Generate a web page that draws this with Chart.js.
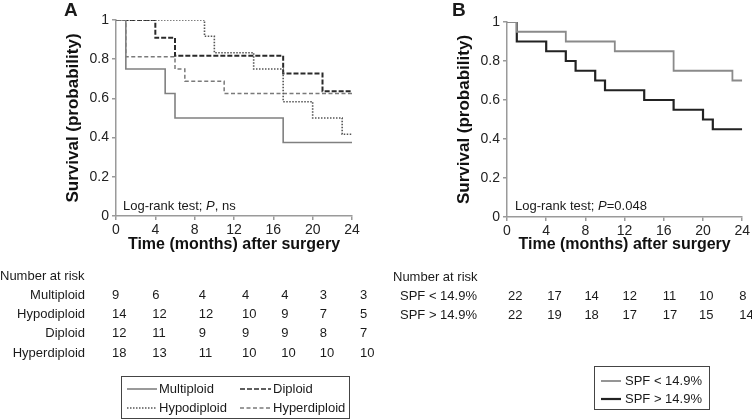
<!DOCTYPE html>
<html><head><meta charset="utf-8">
<script src="https://cdn.jsdelivr.net/npm/chart.js@4"></script>
<style>
html,body{margin:0;padding:0;background:#fff;}
body{width:752px;height:420px;position:relative;overflow:hidden;font-family:"Liberation Sans",Arial,sans-serif;color:#1a1a1a;}
canvas{position:absolute;top:0;}
.t{position:absolute;white-space:nowrap;font-size:13px;line-height:16px;}
svg{position:absolute;left:0;top:0;}
</style></head><body>
<canvas id="ca" width="380" height="258" style="left:0px"></canvas>
<canvas id="cb" width="362" height="258" style="left:390px"></canvas>
<svg id="sv" width="752" height="420"></svg>
<script>
// ---------- data ----------
const tickMonths = [0, 4, 8, 12, 16, 20, 24];
const yTickVals = [0, 0.2, 0.4, 0.6, 0.8, 1];
const yTickLabels = ['0', '0.2', '0.4', '0.6', '0.8', '1'];

const groupsA = ['Multiploid', 'Hypodiploid', 'Diploid', 'Hyperdiploid'];
const multiT = [0, 1, 5, 6, 17, 24];
const multiS = [1, 0.75, 0.625, 0.5, 0.375, 0.375];
const hypoT = [0, 9, 10, 14, 17, 20, 23, 24];
const hypoS = [1, 0.917, 0.833, 0.75, 0.583, 0.5, 0.417, 0.417];
const dipT = [0, 4, 6, 17, 21, 24];
const dipS = [1, 0.909, 0.818, 0.727, 0.636, 0.636];
const hyperT = [0, 1, 6, 7, 11, 24];
const hyperS = [1, 0.8125, 0.75, 0.6875, 0.625, 0.625];

const groupsB = ['SPF < 14.9%', 'SPF > 14.9%'];
const lowT = [0, 1, 6, 11, 17, 23, 24];
const lowS = [1, 0.95, 0.9, 0.85, 0.75, 0.7, 0.7];
const highT = [0, 1, 4, 6, 7, 9, 10, 14, 17, 20, 21, 24];
const highS = [1, 0.9, 0.85, 0.8, 0.75, 0.7, 0.65, 0.6, 0.55, 0.5, 0.45, 0.45];

const riskMulti = [9, 6, 4, 4, 4, 3, 3];
const riskHypo = [14, 12, 12, 10, 9, 7, 5];
const riskDip = [12, 11, 9, 9, 9, 8, 7];
const riskHyper = [18, 13, 11, 10, 10, 10, 10];
const riskLow = [22, 17, 14, 12, 11, 10, 8];
const riskHigh = [22, 19, 18, 17, 17, 15, 14];

const xTitle = 'Time (months) after surgery';
const yTitle = 'Survival (probability)';

// ---------- styling ----------
const FF = '"Liberation Sans", Arial, sans-serif';
const AX = '#9a9a9a';
function pts(T, S) { return T.map((t, i) => ({x: t, y: S[i]})); }
function ds(label, T, S, color, width, dash) {
  return {label, data: pts(T, S), stepped: true, borderColor: color, borderWidth: width,
    borderDash: dash || [], pointRadius: 0, fill: false, tension: 0, borderCapStyle: 'butt'};
}
function scalesCfg(yWidth, xHeight) {
  const common = {
    grid: {drawOnChartArea: false, drawTicks: true, tickLength: 4, color: AX, lineWidth: 1.5},
    border: {display: true, color: AX, width: 1.5}
  };
  return {
    x: Object.assign({}, common, {
      type: 'linear', min: 0, max: 24,
      afterBuildTicks: s => { s.ticks = tickMonths.map(v => ({value: v})); },
      ticks: {color: '#222', font: {size: 14, family: FF}, padding: 2, maxRotation: 0, autoSkip: false,
        callback: v => String(v)},
      title: {display: true, text: xTitle, color: '#111', font: {size: 16, weight: 'bold', family: FF}, padding: {top: 4, bottom: 4}},
      afterFit: s => { s.height = xHeight; }
    }),
    y: Object.assign({}, common, {
      type: 'linear', min: 0, max: 1,
      afterBuildTicks: s => { s.ticks = yTickVals.map(v => ({value: v})); },
      ticks: {color: '#222', font: {size: 14, family: FF}, padding: 3,
        callback: (v, i) => yTickLabels[yTickVals.indexOf(v)] ?? String(v)},
      title: {display: true, text: yTitle, color: '#111', font: {size: 17, weight: 'bold', family: FF}, padding: {top: 4, bottom: 4}},
      afterFit: s => { s.width = yWidth; }
    })
  };
}
const baseOpts = (pad, yW, xH) => ({
  responsive: false, animation: false, devicePixelRatio: 1,
  layout: {padding: pad},
  plugins: {legend: {display: false}, tooltip: {enabled: false}},
  scales: scalesCfg(yW, xH)
});

const chartA = new Chart(document.getElementById('ca'), {
  type: 'line',
  data: {datasets: [
    ds(groupsA[0], multiT, multiS, '#808080', 1.6),
    ds(groupsA[1], hypoT, hypoS, '#555555', 1.6, [1.5, 1.5]),
    ds(groupsA[2], dipT, dipS, '#2a2a2a', 2, [5, 2]),
    ds(groupsA[3], hyperT, hyperS, '#7a7a7a', 1.5, [4, 2.5])
  ]},
  options: baseOpts({left: 59, top: 20, right: 28, bottom: 0}, 57, 42)
});

const chartB = new Chart(document.getElementById('cb'), {
  type: 'line',
  data: {datasets: [
    ds(groupsB[0], lowT, lowS, '#8a8a8a', 1.8),
    ds(groupsB[1], highT, highS, '#222222', 2.2)
  ]},
  options: baseOpts({left: 60, top: 22, right: 9, bottom: 0}, 57, 41)
});

// ---------- text overlays ----------
function txt(html, x, y, align, extra) {
  const d = document.createElement('div');
  d.className = 't';
  d.innerHTML = html;
  d.style.left = x + 'px';
  d.style.top = (y - 8) + 'px';
  if (align === 'right') d.style.transform = 'translateX(-100%)';
  if (extra) d.style.cssText += extra;
  document.body.appendChild(d);
  return d;
}
txt('A', 64, 10, 'left', 'font-size:19px;font-weight:bold;line-height:20px;top:0px;');
txt('B', 452, 10, 'left', 'font-size:19px;font-weight:bold;line-height:20px;top:0px;');
txt('Log-rank test; <i>P</i>, ns', 123, 206);
txt('Log-rank test; <i>P</i>=0.048', 515, 206);

// risk tables
const rowY = [295, 314, 333, 353];
txt('Number at risk', 0, 276);
txt('Number at risk', 393, 277);
const risksA = [riskMulti, riskHypo, riskDip, riskHyper];
const adjA = [-4, -3, 4, 8, 8, 7, 8];
const adjB = [1, 1, -1, -2, -1, -4, -3];
groupsA.forEach((g, r) => {
  txt(g, 85, rowY[r], 'right');
  risksA[r].forEach((n, i) => {
    const px = chartA.scales.x.getPixelForValue(tickMonths[i]) + adjA[i];
    txt(String(n), px, rowY[r]);
  });
});
const risksB = [riskLow, riskHigh];
groupsB.forEach((g, r) => {
  txt(g.replace('<', '&lt;').replace('>', '&gt;'), 400, rowY[r] + 1);
  risksB[r].forEach((n, i) => {
    const px = 390 + chartB.scales.x.getPixelForValue(tickMonths[i]) + adjB[i];
    txt(String(n), px, rowY[r] + 1);
  });
});

// legends
const sv = document.getElementById('sv');
function svg(tag, attrs) {
  const e = document.createElementNS('http://www.w3.org/2000/svg', tag);
  for (const k in attrs) e.setAttribute(k, attrs[k]);
  sv.appendChild(e);
}
svg('rect', {x: 121.5, y: 376.5, width: 228, height: 42, fill: 'none', stroke: '#444', 'stroke-width': 1});
const legA = chartA.data.datasets;
const legPosA = [[127, 157, 389], [127, 157, 408], [240, 271, 389], [240, 271, 408]];
legPosA.forEach((p, i) => {
  const d = legA[i];
  svg('line', {x1: p[0], x2: p[1], y1: p[2], y2: p[2], stroke: d.borderColor, 'stroke-width': Math.min(d.borderWidth, 1.6),
    'stroke-dasharray': d.borderDash.length ? d.borderDash.join(' ') : 'none'});
  txt(d.label, p[1] + 2, p[2]);
});
svg('rect', {x: 594.5, y: 366.5, width: 115, height: 43, fill: 'none', stroke: '#444', 'stroke-width': 1});
const legB = chartB.data.datasets;
[[601, 621, 381], [601, 621, 399]].forEach((p, i) => {
  const d = legB[i];
  svg('line', {x1: p[0], x2: p[1], y1: p[2], y2: p[2], stroke: d.borderColor, 'stroke-width': d.borderWidth});
  txt(d.label.replace('<', '&lt;').replace('>', '&gt;'), p[1] + 4, p[2]);
});
</script>
</body></html>
